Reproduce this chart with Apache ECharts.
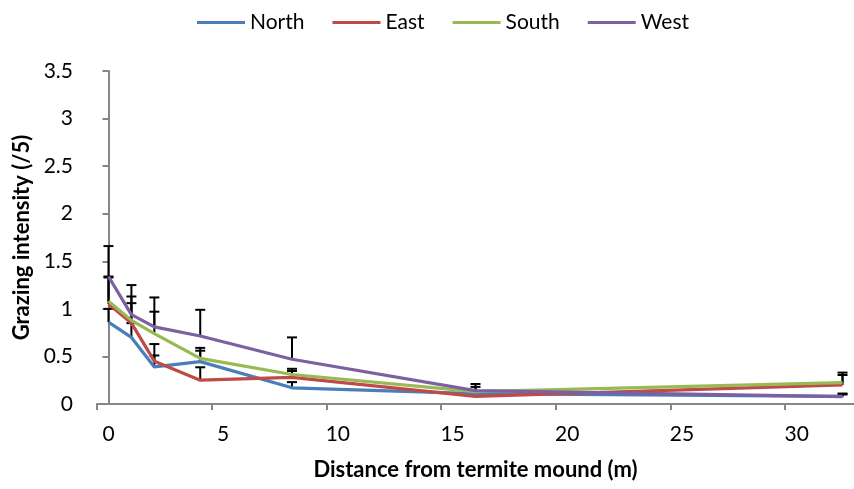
<!DOCTYPE html>
<html>
<head>
<meta charset="utf-8">
<script src="https://cdn.jsdelivr.net/npm/echarts@6/dist/echarts.min.js"></script>
<style>
html,body{margin:0;padding:0;background:#fff;}
#chart{width:854px;height:489px;}
</style>
</head>
<body>
<div id="chart"></div>
<script>
// Distance from termite mound (m)
const distances = [0, 1, 2, 4, 8, 16, 32];
const seriesNames = ['North', 'East', 'South', 'West'];
const north = [0.86, 0.70, 0.39, 0.445, 0.17, 0.11, 0.08];
const east  = [1.05, 0.85, 0.45, 0.25, 0.28, 0.08, 0.20];
const south = [1.08, 0.88, 0.74, 0.48, 0.31, 0.13, 0.225];
const west  = [1.34, 0.94, 0.81, 0.715, 0.47, 0.14, 0.077];
// plus error bars
const northErr = [0.14, 0.15, 0.12, 0.115, 0.06, 0.02, 0.02];
const eastErr  = [0.28, 0.21, 0.18, 0.136, 0.067, 0.03, 0.105];
const southErr = [0.26, 0.25, 0.23, 0.11, 0.06, 0.05, 0.105];
const westErr  = [0.32, 0.31, 0.31, 0.275, 0.23, 0.07, 0.033];
const xLabelValues = [0, 5, 10, 15, 20, 25, 30];
const xTickValues = [-0.5, 4.5, 9.5, 14.5, 19.5, 24.5, 29.5];

const colors = ['#4A7EBB', '#BE4B48', '#98B954', '#7D60A0'];
const values = [north, east, south, west];
const errs = [northErr, eastErr, southErr, westErr];
const FONT = 'Lato';
const FS = 21;
const TFS = 22;

const series = [];
values.forEach((vals, i) => {
  series.push({
    name: seriesNames[i] + ' err',
    type: 'custom',
    z: 1,
    silent: true,
    data: distances.map((d, k) => [d, vals[k], errs[i][k]]),
    renderItem: function (params, api) {
      const x = api.value(0), v = api.value(1), e = api.value(2);
      const p0 = api.coord([x, v]);
      const p1 = api.coord([x, v + e]);
      const st = { stroke: '#000', lineWidth: 2 };
      return {
        type: 'group',
        children: [
          { type: 'line', shape: { x1: p0[0], y1: p0[1], x2: p1[0], y2: p1[1] }, style: st },
          { type: 'line', shape: { x1: p1[0] - 5, y1: p1[1], x2: p1[0] + 5, y2: p1[1] }, style: st }
        ]
      };
    }
  });
});
values.forEach((vals, i) => {
  series.push({
    name: seriesNames[i],
    type: 'line',
    z: 3,
    symbol: 'none',
    lineStyle: { color: colors[i], width: 3.2 },
    itemStyle: { color: colors[i] },
    data: distances.map((d, k) => [d, vals[k]])
  });
});

const chart = echarts.init(document.getElementById('chart'), null, { renderer: 'canvas' });
chart.setOption({
  animation: false,
  backgroundColor: '#fff',
  textStyle: { fontFamily: FONT },
  legend: {
    data: seriesNames.map((n, i) => ({ name: n, icon: 'rect', itemStyle: { color: colors[i] } })),
    top: 7,
    left: 192,
    itemWidth: 48,
    itemHeight: 3,
    itemGap: 28,
    textStyle: { fontFamily: FONT, fontSize: FS, color: '#000' }
  },
  grid: { left: 97, top: 71, width: 764, height: 333, containLabel: false },
  xAxis: {
    type: 'value',
    min: -0.5,
    max: 32.5,
    name: 'Distance from termite mound (m)',
    nameLocation: 'middle',
    nameGap: 55,
    nameTextStyle: { fontFamily: FONT, fontSize: TFS, fontWeight: 'bold', color: '#000' },
    axisLine: { show: true, lineStyle: { color: '#868686', width: 2 } },
    axisTick: { show: true, length: 6, lineStyle: { color: '#868686', width: 2 }, customValues: xTickValues },
    axisLabel: { fontFamily: FONT, fontSize: FS, color: '#000', margin: 20, customValues: xLabelValues },
    splitLine: { show: false }
  },
  yAxis: {
    type: 'value',
    min: 0,
    max: 3.5,
    interval: 0.5,
    name: 'Grazing intensity (/5)',
    nameLocation: 'middle',
    nameGap: 64,
    nameRotate: 90,
    nameTextStyle: { fontFamily: FONT, fontSize: TFS, fontWeight: 'bold', color: '#000' },
    axisLine: { show: true, lineStyle: { color: '#868686', width: 2 } },
    axisTick: { show: true, length: 6, lineStyle: { color: '#868686', width: 2 } },
    axisLabel: { fontFamily: FONT, fontSize: FS, color: '#000', margin: 24 },
    splitLine: { show: false }
  },
  series: series
});
</script>
</body>
</html>
